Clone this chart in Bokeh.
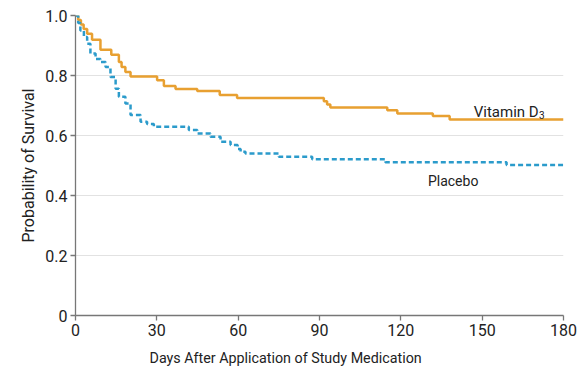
from bokeh.plotting import figure
from bokeh.models import FixedTicker, Label, Title
from bokeh.embed import file_html
from bokeh.resources import INLINE

# Kaplan-Meier step data
vit_days = [0, 1, 2, 3, 4.3, 6.1, 9.2, 13.2, 16, 17, 18.4, 20.3, 30.1, 32.6, 36.9,
            44.9, 53.2, 59.6, 91.6, 92.8, 94, 115, 118.7, 131.8, 138, 180]
vit_surv = [1.0, 0.985, 0.97, 0.955, 0.939, 0.919, 0.886, 0.869, 0.845, 0.828, 0.812,
            0.797, 0.784, 0.765, 0.755, 0.748, 0.735, 0.725, 0.714, 0.703, 0.693,
            0.684, 0.673, 0.665, 0.653, 0.653]

pla_days = [0, 1, 1.8, 3.1, 4.3, 5.5, 7.4, 9.2, 11.1, 12.9, 14.8, 16, 18.4, 20.3, 24,
            26.4, 28.9, 41.8, 44.9, 49.8, 53.5, 57.2, 59.8, 60.9, 62.7, 75, 87.3,
            114.3, 159, 180]
pla_surv = [1.0, 0.975, 0.95, 0.928, 0.906, 0.873, 0.855, 0.845, 0.828, 0.795, 0.756,
            0.729, 0.707, 0.668, 0.646, 0.638, 0.629, 0.618, 0.607, 0.596, 0.579,
            0.568, 0.555, 0.546, 0.540, 0.529, 0.521, 0.511, 0.502, 0.502]

x_ticks = [0, 30, 60, 90, 120, 150, 180]
y_ticks = [0, 0.2, 0.4, 0.6, 0.8, 1.0]
y_tick_labels = ["0", "0.2", "0.4", "0.6", "0.8", "1.0"]

x_title = "Days After Application of Study Medication"
y_title = "Probability of Survival"

FONT = "Roboto"
ORANGE = "#E8A031"
BLUE = "#2B9BCB"
TEXT = "#222222"
AXIS = "#777777"

p = figure(width=586, height=374, x_range=(0, 180), y_range=(0, 1.0),
           output_backend="svg", toolbar_location=None,
           min_border_left=75, min_border_right=23, min_border_top=15, min_border_bottom=58)
p.outline_line_color = None
p.xgrid.grid_line_color = None
p.ygrid.grid_line_color = "#e2e2e2"
p.ygrid.grid_line_width = 1

p.xaxis.ticker = FixedTicker(ticks=x_ticks)
p.yaxis.ticker = FixedTicker(ticks=y_ticks)
p.yaxis.major_label_overrides = {t: l for t, l in zip(y_ticks, y_tick_labels)}
for ax in (p.xaxis, p.yaxis):
    ax.axis_line_color = AXIS
    ax.axis_line_width = 1.3
    ax.major_tick_line_color = AXIS
    ax.major_tick_line_width = 1.3
    ax.major_tick_in = 0
    ax.major_tick_out = 5
    ax.minor_tick_line_color = None
    ax.major_label_text_font = FONT
    ax.major_label_text_font_size = "16px"
    ax.major_label_text_color = TEXT
    ax.major_label_standoff = 3

p.yaxis.axis_label = y_title
p.yaxis.axis_label_text_font = FONT
p.yaxis.axis_label_text_font_size = "16px"
p.yaxis.axis_label_text_font_style = "normal"
p.yaxis.axis_label_text_color = TEXT
p.yaxis.axis_label_standoff = 4

p.add_layout(Title(text=x_title, align="left", offset=74, text_font=FONT,
                   text_font_size="14.3px", text_font_style="normal",
                   text_color=TEXT, standoff=18), "below")

p.step(vit_days, vit_surv, mode="after", line_color=ORANGE, line_width=2.5)
p.step(pla_days, pla_surv, mode="after", line_color=BLUE, line_width=2.5, line_dash="5 3")

p.add_layout(Label(x=146.9, y=0.679, text="Vitamin D", text_align="left",
                   text_baseline="alphabetic", text_font=FONT, text_font_size="15px",
                   text_color=TEXT))
p.add_layout(Label(x=171.0, y=0.670, text="3", text_align="left",
                   text_baseline="alphabetic", text_font=FONT, text_font_size="10px",
                   text_color=TEXT))
p.add_layout(Label(x=130.0, y=0.4485, text="Placebo", text_align="left",
                   text_baseline="alphabetic", text_font=FONT, text_font_size="14px",
                   text_color=TEXT))

open("out.html", "w").write(file_html(p, INLINE))
